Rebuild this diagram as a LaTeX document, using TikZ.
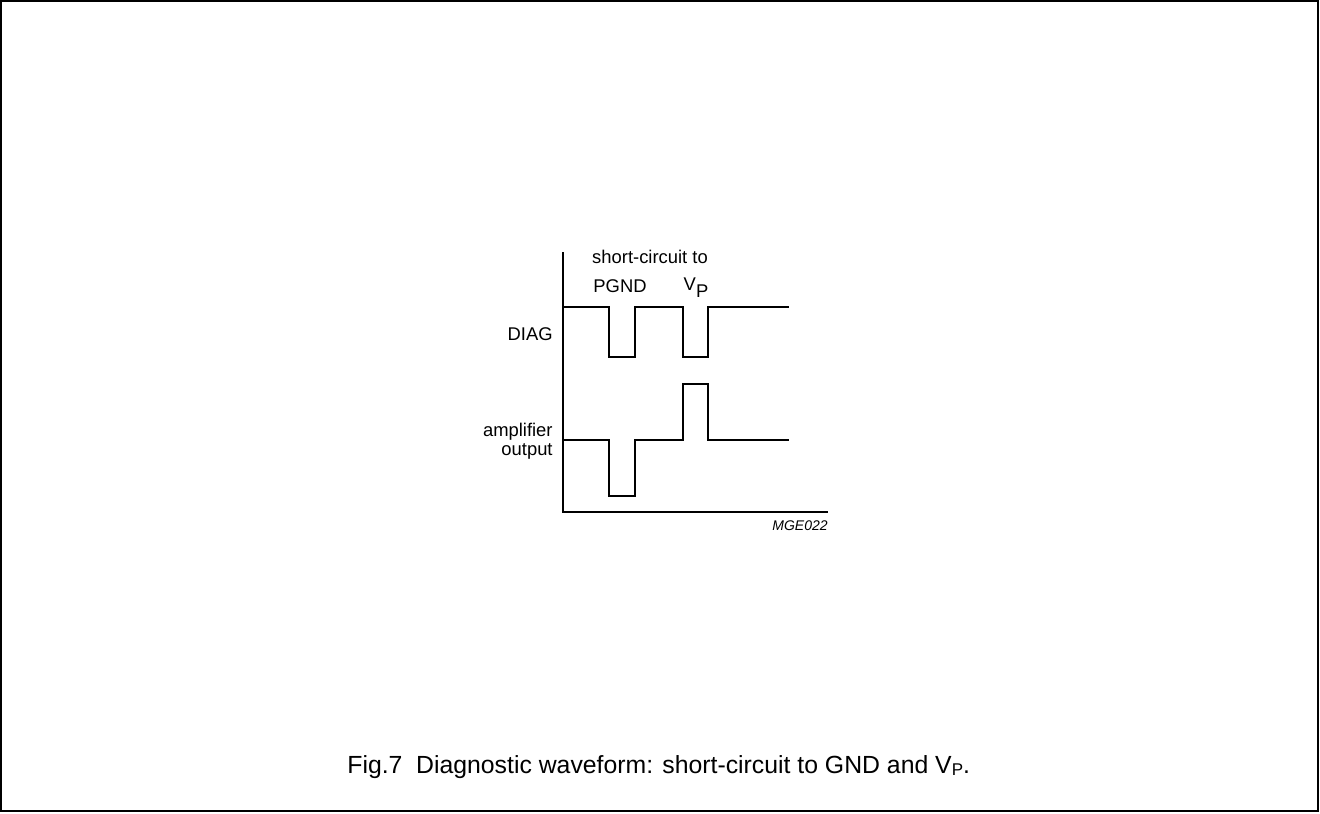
\documentclass[tikz,border=0pt]{standalone}
\usepackage{fontspec}
\setmainfont{Liberation Sans}
\usepackage{tikz}
\usetikzlibrary{positioning}

\begin{document}
\begin{tikzpicture}[x=0.5pt, y=-0.5pt,
          lbl/.style={inner sep=0pt, font=\fontsize{9.2}{9.2}\selectfont},
          wave/.style={line width=1.1pt, line join=miter},
          axis/.style={line width=0.7pt},
          frame/.style={line width=1pt}]
        \useasboundingbox (0,0) rectangle (1320,813);
        \draw[frame] (1,1) rectangle (1318,811);
        % axes
        \coordinate (top) at (563,252);
        \coordinate (org) at (563,512);
        \coordinate (xend) at (828,512);
        \draw[axis] (top)--(org)--(xend);
        % DIAG waveform
        \draw[wave] (563,307)--(609,307)--(609,357)--(635,357)--(635,307)
          --(683,307)--(683,357)--(708,357)--(708,307)--(789,307);
        % amplifier output waveform
        \draw[wave] (563,440)--(609,440)--(609,496)--(635,496)--(635,440)
          --(683,440)--(683,384)--(708,384)--(708,440)--(789,440);
        % labels
        \node[lbl, anchor=base] (sc) at (650,263) {short-circuit to};
        \node[lbl, anchor=base] (pgnd) at (620,292) {PGND};
        \node[lbl, anchor=base] (vp) at (696,290) {V\raisebox{-3.5pt}{P}};
        \node[lbl, anchor=base east] (diag) at (553,340) {DIAG};
        \node[lbl, anchor=base east, align=right] (amp) at (553,455) {amplifier\\output};
        \node[inner sep=0pt, anchor=base east, font=\fontsize{7}{7}\selectfont\itshape] (code) at (828,530) {MGE022};
        \node[inner sep=0pt, anchor=base west, font=\fontsize{12.4}{12.4}\selectfont] (cap) at (347,773)
          {Fig.7\hspace{0.55em}Diagnostic waveform: short-circuit to GND and V\raisebox{-1.2pt}{\fontsize{8.5}{8.5}\selectfont P}.};
      \end{tikzpicture}
\end{document}
